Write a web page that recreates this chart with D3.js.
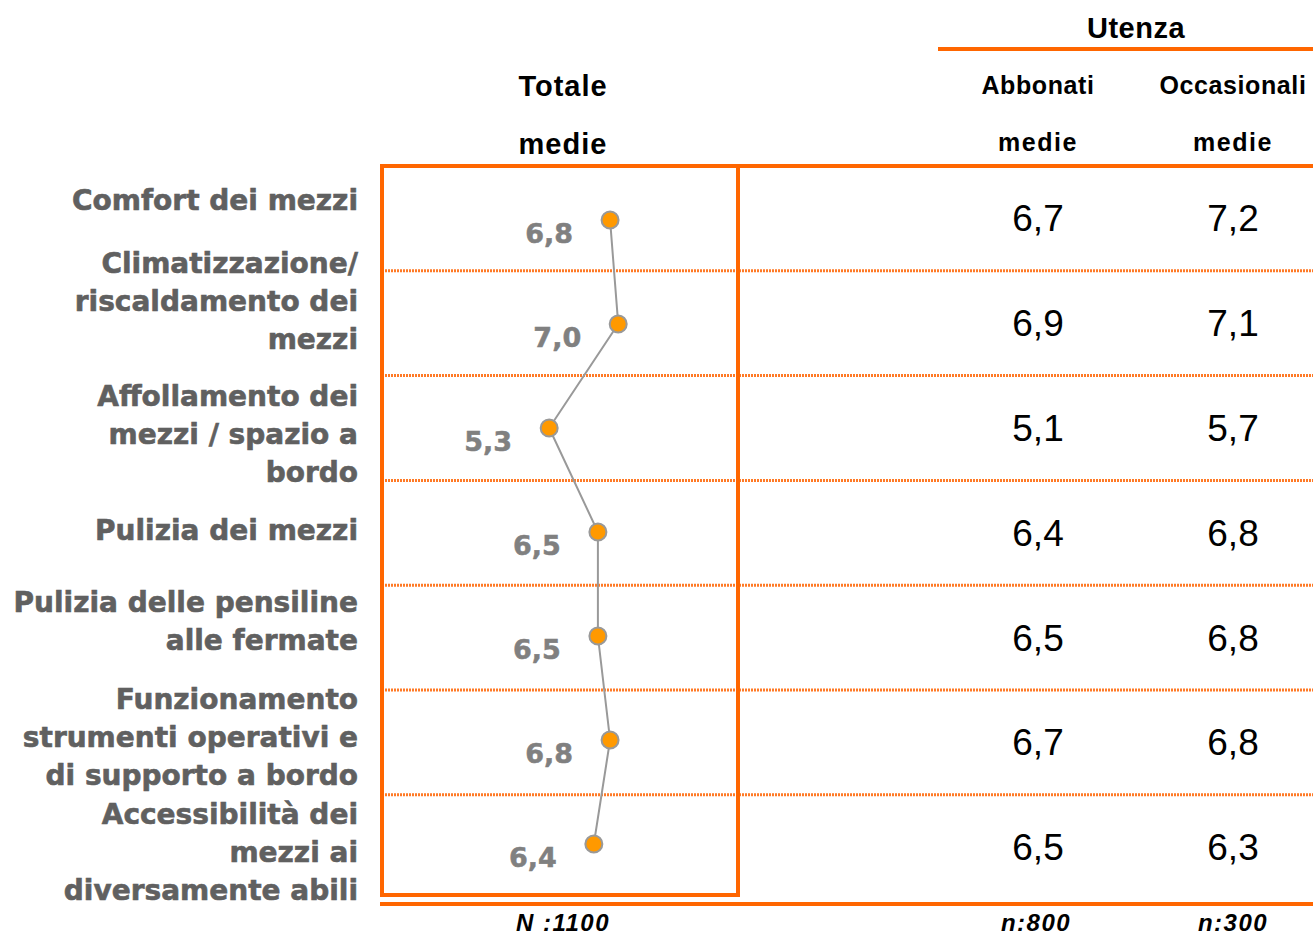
<!DOCTYPE html>
<html>
<head>
<meta charset="utf-8">
<script src="https://cdn.jsdelivr.net/npm/d3@7"></script>
<style>
  body { margin: 0; background: #fff; }
</style>
</head>
<body>
<svg width="1313" height="936"></svg>
<script>
// data
const categories = [
  ["Comfort dei mezzi"],
  ["Climatizzazione/", "riscaldamento dei", "mezzi"],
  ["Affollamento dei", "mezzi / spazio a", "bordo"],
  ["Pulizia dei mezzi"],
  ["Pulizia delle pensiline", "alle fermate"],
  ["Funzionamento", "strumenti operativi e", "di supporto a bordo"],
  ["Accessibilità dei", "mezzi ai", "diversamente abili"]
];
const totale = [6.8, 7.0, 5.3, 6.5, 6.5, 6.8, 6.4];
const abbonati = [6.7, 6.9, 5.1, 6.4, 6.5, 6.7, 6.5];
const occasionali = [7.2, 7.1, 5.7, 6.8, 6.8, 6.8, 6.3];
const sampleSizes = ["N :1100", "n:800", "n:300"];

const svg = d3.select("svg");
const orange = "#FF6600";
const fmt = v => d3.format(".1f")(v).replace(".", ",");

// layout
const tableTop = 166, rowH = 104.8;
const boxLeft = 382, boxRight = 738;
const colAbb = 1038, colOcc = 1233;
// small nudges for the wrapped category labels
const labelDy = [-18, -22, 6, -3, -16, -5, 5];

const y = d3.scaleBand()
  .domain(d3.range(categories.length))
  .range([tableTop, tableTop + rowH * categories.length]);
// the dots sit slightly off the row centres in the original
const yDot = d3.scalePoint()
  .domain(d3.range(categories.length))
  .range([220, 844]);
const x = d3.scaleLinear().domain([0, 10]).range([334, 740]);
const rowMid = i => y(i) + y.bandwidth() / 2;

// dotted row separators
svg.append("g")
  .selectAll("line")
  .data(d3.range(1, categories.length))
  .enter()
  .append("line")
  .attr("x1", boxLeft).attr("x2", 1313)
  .attr("y1", d => y(d)).attr("y2", d => y(d))
  .attr("stroke", "#FF7A26")
  .attr("stroke-width", 3)
  .attr("stroke-dasharray", "2,1");

// header & footer rules
svg.append("line")
  .attr("x1", 380).attr("x2", 1313)
  .attr("y1", tableTop).attr("y2", tableTop)
  .attr("stroke", orange).attr("stroke-width", 4);
svg.append("line")
  .attr("x1", 938).attr("x2", 1313)
  .attr("y1", 49).attr("y2", 49)
  .attr("stroke", orange).attr("stroke-width", 4);
svg.append("line")
  .attr("x1", 380).attr("x2", 1313)
  .attr("y1", 904).attr("y2", 904)
  .attr("stroke", orange).attr("stroke-width", 4);

// Totale box
svg.append("rect")
  .attr("x", boxLeft).attr("y", tableTop)
  .attr("width", boxRight - boxLeft)
  .attr("height", 895 - tableTop)
  .attr("fill", "none")
  .attr("stroke", orange)
  .attr("stroke-width", 4);

// headers
const head = svg.append("g")
  .attr("font-family", "Liberation Sans, Arial, sans-serif")
  .attr("font-weight", "bold")
  .attr("text-anchor", "middle")
  .attr("fill", "#000");
head.append("text").attr("x", 563).attr("y", 96).attr("font-size", 29).attr("letter-spacing", 1).text("Totale");
head.append("text").attr("x", 563).attr("y", 154).attr("font-size", 29).attr("letter-spacing", 1).text("medie");
head.append("text").attr("x", 1136).attr("y", 38).attr("font-size", 29).attr("letter-spacing", 0.5).text("Utenza");
head.append("text").attr("x", colAbb).attr("y", 94).attr("font-size", 25).attr("letter-spacing", 0.6).text("Abbonati");
head.append("text").attr("x", colOcc).attr("y", 94).attr("font-size", 25).attr("letter-spacing", 0.6).text("Occasionali");
head.append("text").attr("x", colAbb).attr("y", 151).attr("font-size", 25).attr("letter-spacing", 1.5).text("medie");
head.append("text").attr("x", colOcc).attr("y", 151).attr("font-size", 25).attr("letter-spacing", 1.5).text("medie");

// category labels
const lineH = 38;
svg.append("g")
  .selectAll("text")
  .data(categories)
  .enter()
  .append("text")
  .attr("text-anchor", "end")
  .attr("font-family", "DejaVu Sans, Verdana, sans-serif")
  .attr("font-weight", "bold")
  .attr("font-size", 28)
  .attr("fill", "#606060")
  .attr("stroke", "#606060")
  .attr("stroke-width", 0.6)
  .each(function (d, i) {
    const top = rowMid(i) + labelDy[i] - (d.length - 1) * lineH / 2;
    d3.select(this).selectAll("tspan")
      .data(d)
      .enter()
      .append("tspan")
      .attr("x", 358)
      .attr("y", (t, j) => top + j * lineH)
      .attr("dy", "0.35em")
      .text(t => t);
  });

// line + dots
const line = d3.line()
  .x(d => x(d))
  .y((d, i) => yDot(i));
svg.append("path")
  .datum(totale)
  .attr("d", line)
  .attr("fill", "none")
  .attr("stroke", "#999999")
  .attr("stroke-width", 2);
svg.append("g")
  .selectAll("circle")
  .data(totale)
  .enter()
  .append("circle")
  .attr("cx", d => x(d))
  .attr("cy", (d, i) => yDot(i))
  .attr("r", 8.5)
  .attr("fill", "#FF9900")
  .attr("stroke", "#999999")
  .attr("stroke-width", 2);
svg.append("g")
  .selectAll("text")
  .data(totale)
  .enter()
  .append("text")
  .attr("x", d => x(d) - 37)
  .attr("y", (d, i) => yDot(i) + 14)
  .attr("dy", "0.35em")
  .attr("text-anchor", "end")
  .attr("font-family", "DejaVu Sans, Verdana, sans-serif")
  .attr("font-weight", "bold")
  .attr("font-size", 27)
  .attr("fill", "#808080")
  .attr("stroke", "#808080")
  .attr("stroke-width", 0.5)
  .text(d => fmt(d));

// Utenza values
[[abbonati, colAbb], [occasionali, colOcc]].forEach(([vals, cx]) => {
  svg.append("g")
    .selectAll("text")
    .data(vals)
    .enter()
    .append("text")
    .attr("x", cx)
    .attr("y", (d, i) => rowMid(i))
    .attr("dy", "0.35em")
    .attr("text-anchor", "middle")
    .attr("font-family", "Liberation Sans, Arial, sans-serif")
    .attr("font-size", 37)
    .attr("fill", "#000")
    .text(d => fmt(d));
});

// sample sizes
svg.append("g")
  .selectAll("text")
  .data(sampleSizes)
  .enter()
  .append("text")
  .attr("x", (d, i) => [563, 1036, 1233][i])
  .attr("y", 931)
  .attr("text-anchor", "middle")
  .attr("font-family", "Liberation Sans, Arial, sans-serif")
  .attr("font-weight", "bold")
  .attr("font-style", "italic")
  .attr("font-size", 24)
  .attr("letter-spacing", 1.5)
  .attr("fill", "#000")
  .text(d => d);
</script>
</body>
</html>
